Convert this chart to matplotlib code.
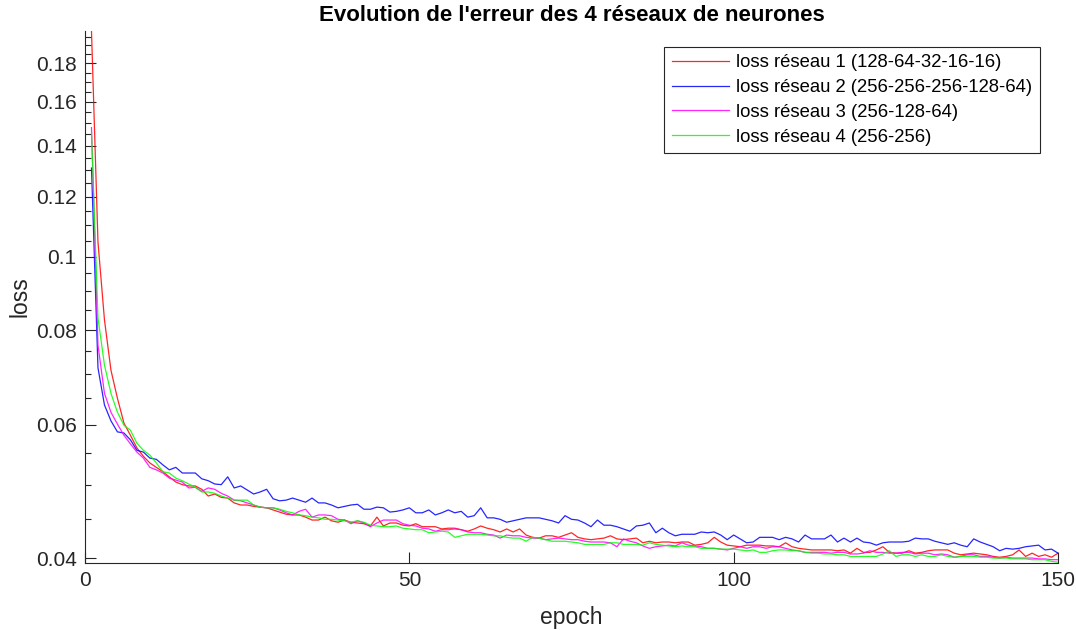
# loss curves of the 4 networks (log y axis, MATLAB-like look)
import matplotlib
matplotlib.use('Agg')
import matplotlib.pyplot as plt
import numpy as np

plt.rcParams['font.family'] = ['Liberation Sans', 'DejaVu Sans']

epochs = np.arange(1, 151)

loss_net1 = [
    0.1985, 0.1045, 0.0825, 0.0708, 0.0650, 0.0603, 0.0581, 0.0559, 0.0545, 0.0534,
    0.0527, 0.0520, 0.0512, 0.0504, 0.0500, 0.0498, 0.0498, 0.0493, 0.0483, 0.0486,
    0.0481, 0.0480, 0.0473, 0.0470, 0.0470, 0.0468, 0.0467, 0.0466, 0.0463, 0.0460,
    0.0457, 0.0456, 0.0456, 0.0453, 0.0449, 0.0449, 0.0453, 0.0448, 0.0446, 0.0449,
    0.0446, 0.0445, 0.0444, 0.0441, 0.0453, 0.0441, 0.0445, 0.0445, 0.0442, 0.0441,
    0.0444, 0.0440, 0.0440, 0.0440, 0.0437, 0.0438, 0.0438, 0.0436, 0.0434, 0.0437,
    0.0441, 0.0438, 0.0436, 0.0433, 0.0437, 0.0433, 0.0437, 0.0429, 0.0426, 0.0425,
    0.0428, 0.0428, 0.0426, 0.0429, 0.0432, 0.0426, 0.0424, 0.0423, 0.0424, 0.0425,
    0.0428, 0.0424, 0.0423, 0.0424, 0.0425, 0.0419, 0.0421, 0.0419, 0.0420, 0.0420,
    0.0419, 0.0420, 0.0420, 0.0416, 0.0417, 0.0419, 0.0426, 0.0420, 0.0416, 0.0415,
    0.0414, 0.0416, 0.0416, 0.0416, 0.0415, 0.0415, 0.0414, 0.0419, 0.0414, 0.0412,
    0.0411, 0.0410, 0.0410, 0.0410, 0.0410, 0.0409, 0.0410, 0.0406, 0.0412, 0.0407,
    0.0407, 0.0410, 0.0414, 0.0407, 0.0406, 0.0406, 0.0409, 0.0406, 0.0407, 0.0409,
    0.0410, 0.0410, 0.0410, 0.0406, 0.0404, 0.0405, 0.0406, 0.0405, 0.0404, 0.0402,
    0.0401, 0.0402, 0.0404, 0.0410, 0.0402, 0.0406, 0.0402, 0.0404, 0.0401, 0.0406,
]

loss_net2 = [
    0.1309, 0.0713, 0.0637, 0.0607, 0.0587, 0.0585, 0.0573, 0.0555, 0.0552, 0.0542,
    0.0540, 0.0531, 0.0523, 0.0527, 0.0518, 0.0518, 0.0518, 0.0509, 0.0506, 0.0501,
    0.0500, 0.0512, 0.0495, 0.0498, 0.0492, 0.0486, 0.0489, 0.0493, 0.0479, 0.0476,
    0.0477, 0.0480, 0.0477, 0.0474, 0.0480, 0.0473, 0.0473, 0.0470, 0.0466, 0.0468,
    0.0470, 0.0471, 0.0464, 0.0464, 0.0467, 0.0466, 0.0460, 0.0461, 0.0463, 0.0466,
    0.0459, 0.0459, 0.0463, 0.0456, 0.0459, 0.0463, 0.0459, 0.0461, 0.0453, 0.0455,
    0.0466, 0.0452, 0.0452, 0.0450, 0.0446, 0.0448, 0.0450, 0.0452, 0.0452, 0.0452,
    0.0450, 0.0448, 0.0445, 0.0455, 0.0450, 0.0449, 0.0445, 0.0440, 0.0449, 0.0442,
    0.0442, 0.0440, 0.0437, 0.0434, 0.0441, 0.0442, 0.0445, 0.0432, 0.0438, 0.0432,
    0.0428, 0.0430, 0.0430, 0.0430, 0.0433, 0.0432, 0.0433, 0.0429, 0.0423, 0.0429,
    0.0424, 0.0419, 0.0420, 0.0426, 0.0426, 0.0426, 0.0423, 0.0426, 0.0424, 0.0420,
    0.0429, 0.0424, 0.0424, 0.0424, 0.0429, 0.0420, 0.0425, 0.0420, 0.0425, 0.0420,
    0.0419, 0.0416, 0.0419, 0.0420, 0.0420, 0.0420, 0.0421, 0.0425, 0.0424, 0.0424,
    0.0421, 0.0419, 0.0417, 0.0419, 0.0416, 0.0414, 0.0424, 0.0420, 0.0417, 0.0414,
    0.0409, 0.0412, 0.0411, 0.0412, 0.0414, 0.0415, 0.0416, 0.0410, 0.0411, 0.0406,
]

loss_net3 = [
    0.1480, 0.0764, 0.0660, 0.0623, 0.0601, 0.0581, 0.0566, 0.0552, 0.0542, 0.0527,
    0.0523, 0.0518, 0.0510, 0.0507, 0.0504, 0.0495, 0.0496, 0.0490, 0.0495, 0.0493,
    0.0487, 0.0483, 0.0477, 0.0476, 0.0473, 0.0470, 0.0467, 0.0466, 0.0466, 0.0463,
    0.0459, 0.0456, 0.0461, 0.0464, 0.0453, 0.0456, 0.0456, 0.0455, 0.0450, 0.0449,
    0.0444, 0.0448, 0.0445, 0.0440, 0.0445, 0.0449, 0.0449, 0.0449, 0.0444, 0.0442,
    0.0441, 0.0438, 0.0437, 0.0434, 0.0436, 0.0436, 0.0437, 0.0436, 0.0433, 0.0432,
    0.0432, 0.0430, 0.0429, 0.0425, 0.0429, 0.0428, 0.0428, 0.0426, 0.0425, 0.0425,
    0.0423, 0.0424, 0.0425, 0.0424, 0.0423, 0.0423, 0.0421, 0.0420, 0.0420, 0.0420,
    0.0419, 0.0414, 0.0424, 0.0421, 0.0419, 0.0415, 0.0412, 0.0414, 0.0415, 0.0416,
    0.0415, 0.0419, 0.0416, 0.0415, 0.0414, 0.0412, 0.0412, 0.0411, 0.0410, 0.0412,
    0.0414, 0.0412, 0.0414, 0.0414, 0.0412, 0.0414, 0.0414, 0.0412, 0.0410, 0.0409,
    0.0407, 0.0407, 0.0407, 0.0407, 0.0406, 0.0407, 0.0407, 0.0405, 0.0405, 0.0406,
    0.0409, 0.0407, 0.0407, 0.0406, 0.0406, 0.0407, 0.0407, 0.0405, 0.0406, 0.0406,
    0.0404, 0.0405, 0.0404, 0.0401, 0.0402, 0.0404, 0.0404, 0.0402, 0.0402, 0.0401,
    0.0400, 0.0401, 0.0400, 0.0400, 0.0400, 0.0400, 0.0399, 0.0399, 0.0398, 0.0398,
]

loss_net4 = [
    0.1460, 0.0830, 0.0719, 0.0660, 0.0623, 0.0599, 0.0590, 0.0567, 0.0555, 0.0547,
    0.0534, 0.0520, 0.0518, 0.0510, 0.0506, 0.0501, 0.0496, 0.0489, 0.0489, 0.0487,
    0.0483, 0.0480, 0.0477, 0.0477, 0.0477, 0.0470, 0.0467, 0.0466, 0.0466, 0.0464,
    0.0461, 0.0459, 0.0456, 0.0455, 0.0453, 0.0452, 0.0450, 0.0450, 0.0449, 0.0448,
    0.0446, 0.0448, 0.0446, 0.0442, 0.0441, 0.0440, 0.0440, 0.0441, 0.0438, 0.0437,
    0.0436, 0.0436, 0.0432, 0.0433, 0.0434, 0.0433, 0.0426, 0.0428, 0.0430, 0.0430,
    0.0430, 0.0429, 0.0428, 0.0428, 0.0426, 0.0425, 0.0425, 0.0421, 0.0426, 0.0425,
    0.0423, 0.0421, 0.0421, 0.0421, 0.0420, 0.0419, 0.0417, 0.0417, 0.0417, 0.0417,
    0.0419, 0.0419, 0.0417, 0.0417, 0.0417, 0.0416, 0.0419, 0.0417, 0.0416, 0.0415,
    0.0414, 0.0415, 0.0414, 0.0414, 0.0412, 0.0412, 0.0412, 0.0411, 0.0411, 0.0411,
    0.0410, 0.0409, 0.0410, 0.0407, 0.0407, 0.0409, 0.0410, 0.0410, 0.0409, 0.0409,
    0.0407, 0.0406, 0.0406, 0.0405, 0.0405, 0.0404, 0.0404, 0.0402, 0.0402, 0.0402,
    0.0402, 0.0402, 0.0405, 0.0409, 0.0402, 0.0404, 0.0404, 0.0402, 0.0404, 0.0402,
    0.0402, 0.0404, 0.0402, 0.0401, 0.0402, 0.0402, 0.0402, 0.0401, 0.0401, 0.0400,
    0.0400, 0.0400, 0.0399, 0.0399, 0.0399, 0.0398, 0.0398, 0.0398, 0.0396, 0.0395,
]

labels = ['loss réseau 1 (128-64-32-16-16)',
          'loss réseau 2 (256-256-256-128-64)',
          'loss réseau 3 (256-128-64)',
          'loss réseau 4 (256-256)']
colors = ['#ff0000', '#0000ff', '#ff00ff', '#00ff00']

major_y = [0.04, 0.06, 0.08, 0.1, 0.12, 0.14, 0.16, 0.18]
major_x = [0, 50, 100, 150]

dark = '#262626'

fig = plt.figure(figsize=(10.76, 6.30), dpi=100)
ax = fig.add_axes([0.079, 0.1063, 0.9043, 0.8444])

for vals, lab, col in zip([loss_net1, loss_net2, loss_net3, loss_net4], labels, colors):
    ax.plot(epochs, vals, color=col, lw=0.9, label=lab, alpha=0.85)

ax.set_yscale('log')
ax.set_xlim(0, 150)
ax.set_ylim(0.0394, 0.1985)

ax.set_xticks(major_x)
ax.set_xticklabels([str(v) for v in major_x])
ax.set_yticks(major_y)
ax.set_yticklabels(['{:g}'.format(v) for v in major_y])
minor_y = [v / 1000 for v in range(45, 200, 5) if v % 20 != 0]
ax.set_yticks(minor_y, minor=True)
ax.yaxis.set_minor_formatter(matplotlib.ticker.NullFormatter())
ax.set_xticks([], minor=True)

ax.tick_params(which='major', direction='in', length=8, width=0.8,
               colors=dark, labelsize=15, pad=6)
ax.tick_params(which='minor', direction='in', length=4, width=0.8, colors=dark)

for s in ['top', 'right']:
    ax.spines[s].set_visible(False)
for s in ['left', 'bottom']:
    ax.spines[s].set_color(dark)
    ax.spines[s].set_linewidth(0.8)

ax.set_xlabel('epoch', fontsize=16.5, color=dark, labelpad=11)
ax.set_ylabel('loss', fontsize=16.5, color=dark, labelpad=3)
ax.set_title("Evolution de l'erreur des 4 réseaux de neurones",
             fontsize=16, fontweight='bold', pad=7)

leg = ax.legend(loc='upper right', bbox_to_anchor=(1040 / 1076, 1 - 47 / 630),
                bbox_transform=fig.transFigure, fontsize=13.3, fancybox=False,
                framealpha=1, edgecolor=dark, handlelength=3.1,
                borderpad=0.4, labelspacing=0.42, handletextpad=0.4,
                borderaxespad=0)
leg.get_frame().set_linewidth(0.8)

fig.savefig('out.png', dpi=100)
